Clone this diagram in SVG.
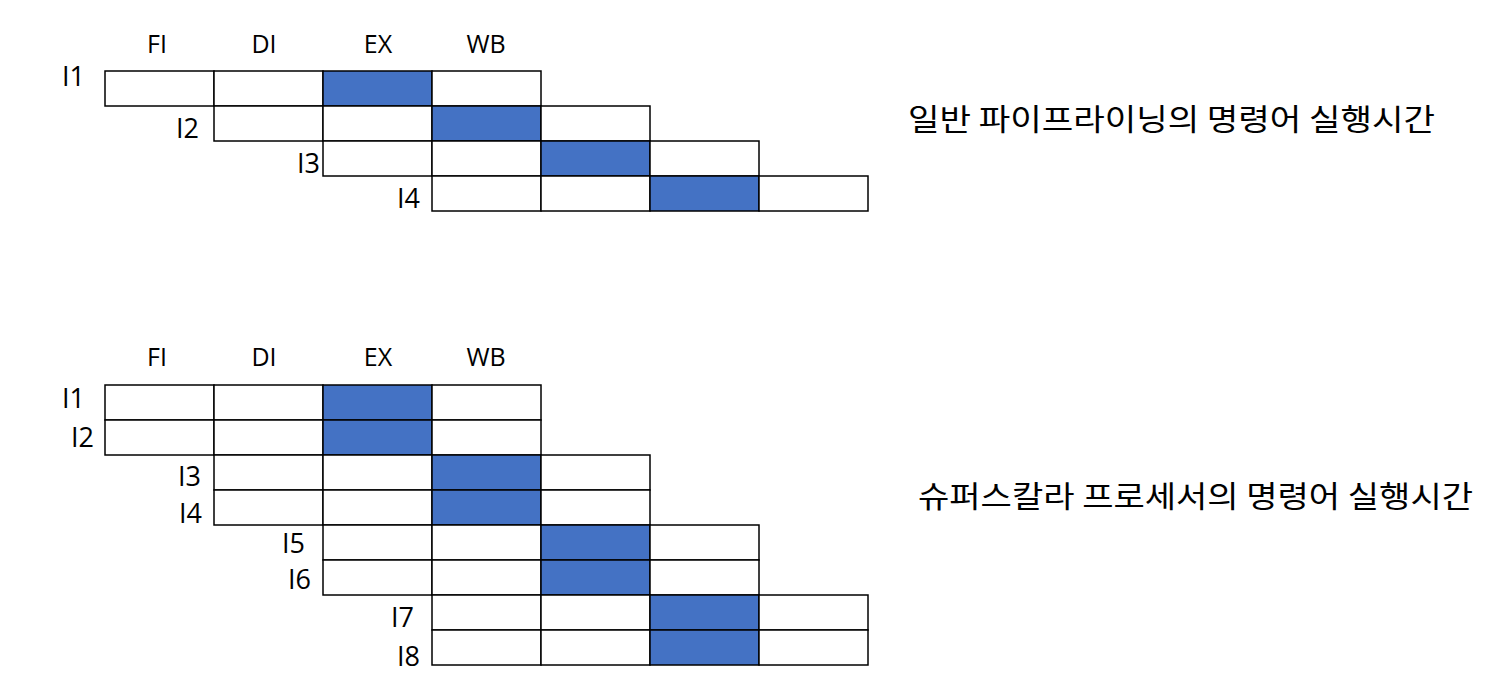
<svg xmlns="http://www.w3.org/2000/svg" width="1506" height="698" viewBox="0 0 1506 698">
<style>
.c{fill:#ffffff;stroke:#000000;stroke-width:1.5}
.b{fill:#4472C4;stroke:#000000;stroke-width:1.5}
.h{font-family:"Open Sans","Noto Sans","Liberation Sans",sans-serif;font-size:25px;fill:#000;text-anchor:middle}
.l{font-family:"Open Sans","Noto Sans","Liberation Sans",sans-serif;font-size:27px;fill:#000;text-anchor:end}
.k{font-family:"Noto Sans CJK KR","Noto Sans",sans-serif;font-size:30px;fill:#000}
</style>
<rect width="1506" height="698" fill="#ffffff"/>
<g id="top-headers">
<text class="h" x="157" y="53">FI</text>
<text class="h" x="264" y="53">DI</text>
<text class="h" x="378" y="53">EX</text>
<text class="h" x="486" y="53">WB</text>
</g>
<g id="top-I1"><text class="l" x="85" y="86">I1</text>
<rect class="c" x="105" y="71" width="109" height="35"/><rect class="c" x="214" y="71" width="109" height="35"/><rect class="b" x="323" y="71" width="109" height="35"/><rect class="c" x="432" y="71" width="109" height="35"/></g>
<g id="top-I2"><text class="l" x="199" y="138">I2</text>
<rect class="c" x="214" y="106" width="109" height="35"/><rect class="c" x="323" y="106" width="109" height="35"/><rect class="b" x="432" y="106" width="109" height="35"/><rect class="c" x="541" y="106" width="109" height="35"/></g>
<g id="top-I3"><text class="l" x="320" y="173">I3</text>
<rect class="c" x="323" y="141" width="109" height="35"/><rect class="c" x="432" y="141" width="109" height="35"/><rect class="b" x="541" y="141" width="109" height="35"/><rect class="c" x="650" y="141" width="109" height="35"/></g>
<g id="top-I4"><text class="l" x="420" y="208">I4</text>
<rect class="c" x="432" y="176" width="109" height="35"/><rect class="c" x="541" y="176" width="109" height="35"/><rect class="b" x="650" y="176" width="109" height="35"/><rect class="c" x="759" y="176" width="109" height="35"/></g>
<g id="top-title"><text class="k" x="908" y="130" textLength="527" lengthAdjust="spacingAndGlyphs">일반 파이프라이닝의 명령어 실행시간</text></g>

<g id="bottom-headers">
<text class="h" x="157" y="366">FI</text>
<text class="h" x="264" y="366">DI</text>
<text class="h" x="378" y="366">EX</text>
<text class="h" x="486" y="366">WB</text>
</g>
<g id="bot-I1"><text class="l" x="85" y="408">I1</text>
<rect class="c" x="105" y="385" width="109" height="35"/><rect class="c" x="214" y="385" width="109" height="35"/><rect class="b" x="323" y="385" width="109" height="35"/><rect class="c" x="432" y="385" width="109" height="35"/></g>
<g id="bot-I2"><text class="l" x="94" y="447">I2</text>
<rect class="c" x="105" y="420" width="109" height="35"/><rect class="c" x="214" y="420" width="109" height="35"/><rect class="b" x="323" y="420" width="109" height="35"/><rect class="c" x="432" y="420" width="109" height="35"/></g>
<g id="bot-I3"><text class="l" x="201" y="486">I3</text>
<rect class="c" x="214" y="455" width="109" height="35"/><rect class="c" x="323" y="455" width="109" height="35"/><rect class="b" x="432" y="455" width="109" height="35"/><rect class="c" x="541" y="455" width="109" height="35"/></g>
<g id="bot-I4"><text class="l" x="202" y="523">I4</text>
<rect class="c" x="214" y="490" width="109" height="35"/><rect class="c" x="323" y="490" width="109" height="35"/><rect class="b" x="432" y="490" width="109" height="35"/><rect class="c" x="541" y="490" width="109" height="35"/></g>
<g id="bot-I5"><text class="l" x="305" y="553">I5</text>
<rect class="c" x="323" y="525" width="109" height="35"/><rect class="c" x="432" y="525" width="109" height="35"/><rect class="b" x="541" y="525" width="109" height="35"/><rect class="c" x="650" y="525" width="109" height="35"/></g>
<g id="bot-I6"><text class="l" x="311" y="589">I6</text>
<rect class="c" x="323" y="560" width="109" height="35"/><rect class="c" x="432" y="560" width="109" height="35"/><rect class="b" x="541" y="560" width="109" height="35"/><rect class="c" x="650" y="560" width="109" height="35"/></g>
<g id="bot-I7"><text class="l" x="414" y="627">I7</text>
<rect class="c" x="432" y="595" width="109" height="35"/><rect class="c" x="541" y="595" width="109" height="35"/><rect class="b" x="650" y="595" width="109" height="35"/><rect class="c" x="759" y="595" width="109" height="35"/></g>
<g id="bot-I8"><text class="l" x="420" y="666">I8</text>
<rect class="c" x="432" y="630" width="109" height="35"/><rect class="c" x="541" y="630" width="109" height="35"/><rect class="b" x="650" y="630" width="109" height="35"/><rect class="c" x="759" y="630" width="109" height="35"/></g>
<g id="bottom-title"><text class="k" x="918" y="507" textLength="555" lengthAdjust="spacingAndGlyphs">슈퍼스칼라 프로세서의 명령어 실행시간</text></g>
<g id="connectors"/>
</svg>
